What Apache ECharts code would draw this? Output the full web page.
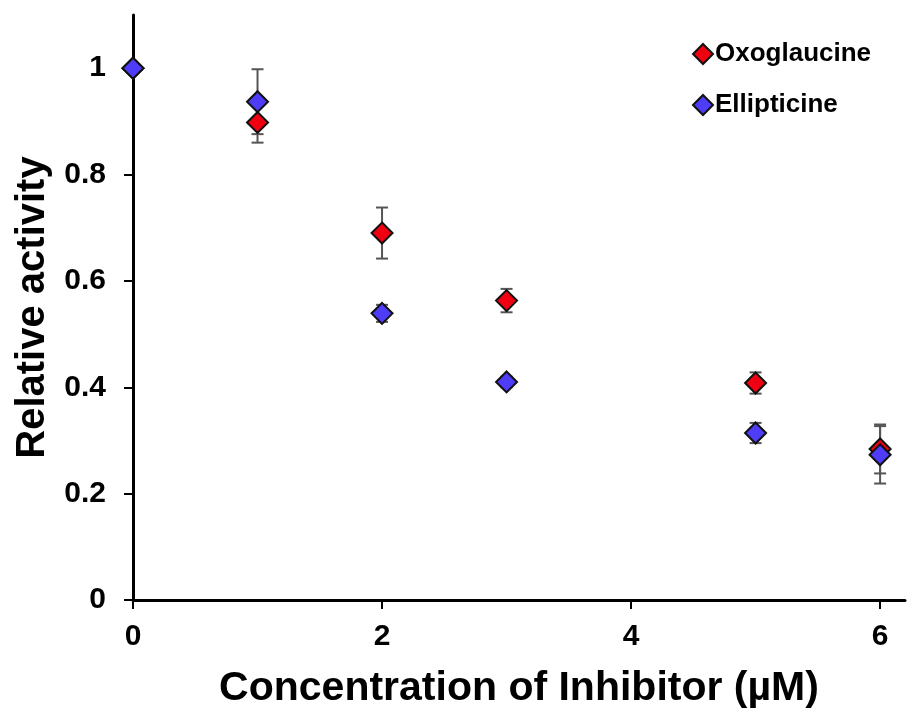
<!DOCTYPE html>
<html lang="en">
<head>
  <meta charset="UTF-8">
  <title>Relative activity</title>
  <style>
    html, body { margin: 0; padding: 0; background: #fff; }
    #chart { width: 909px; height: 714px; }
  </style>
</head>
<body>
  <div id="chart"></div>
  <script src="https://cdn.jsdelivr.net/npm/echarts@6/dist/echarts.min.js"></script>
  <script>
    // concentrations (µM)
    const conc = [0, 1, 2, 3, 5, 6]

    // relative activity + error bars
    const oxoVals = [1.0, 0.898, 0.690, 0.563, 0.408, 0.284]
    const oxoErr = [0.0, 0.038, 0.048, 0.022, 0.020, 0.046]
    const ellVals = [1.0, 0.937, 0.539, 0.410, 0.314, 0.273]
    const ellErr = [0.0, 0.061, 0.016, 0.010, 0.019, 0.054]

    const font = 'Liberation Sans, Arial, sans-serif'

    const chart = echarts.init(document.getElementById('chart'))

    const errSeries = (vals, errs) => ({
      type: 'custom',
      silent: true,
      z: 1,
      data: conc.map((c, i) => [c, vals[i] - errs[i], vals[i] + errs[i]]),
      renderItem: (params, api) => {
        const lo = api.coord([api.value(0), api.value(1)])
        const hi = api.coord([api.value(0), api.value(2)])
        const w = 6
        const style = { stroke: '#555', lineWidth: 2 }
        return {
          type: 'group',
          children: [
            { type: 'line', shape: { x1: lo[0], y1: lo[1], x2: hi[0], y2: hi[1] }, style },
            { type: 'line', shape: { x1: lo[0] - w, y1: lo[1], x2: lo[0] + w, y2: lo[1] }, style },
            { type: 'line', shape: { x1: hi[0] - w, y1: hi[1], x2: hi[0] + w, y2: hi[1] }, style }
          ]
        }
      }
    })

    const pointSeries = (name, vals, color, z) => ({
      name,
      type: 'scatter',
      symbol: 'diamond',
      symbolSize: 21,
      z,
      itemStyle: { color, opacity: 1, borderColor: '#111', borderWidth: 2 },
      data: conc.map((c, i) => [c, vals[i]])
    })

    const option = {
      animation: false,
      grid: { left: 133, right: 4, top: 15, bottom: 114 },
      legend: {
        orient: 'vertical',
        left: 687,
        top: 36,
        itemGap: 25,
        itemWidth: 20,
        itemHeight: 20,
        data: ['Oxoglaucine', 'Ellipticine'],
        textStyle: { fontFamily: font, fontWeight: 'bold', fontSize: 26, color: '#000', padding: [0, 0, 0, -3] }
      },
      xAxis: {
        type: 'value',
        min: 0,
        max: 6.2,
        interval: 2,
        name: 'Concentration of Inhibitor (µM)',
        nameLocation: 'middle',
        nameGap: 68,
        nameTextStyle: { fontFamily: font, fontWeight: 'bold', fontSize: 41, color: '#000' },
        axisLine: { lineStyle: { color: '#000', width: 3 } },
        axisTick: { length: 9, lineStyle: { color: '#000', width: 2 } },
        axisLabel: {
          fontFamily: font, fontWeight: 'bold', fontSize: 30, color: '#000', margin: 22,
          showMaxLabel: false
        },
        splitLine: { show: false }
      },
      yAxis: {
        type: 'value',
        min: 0,
        max: 1.1,
        interval: 0.2,
        name: 'Relative activity',
        nameLocation: 'middle',
        nameGap: 80,
        nameTextStyle: { fontFamily: font, fontWeight: 'bold', fontSize: 40, color: '#000' },
        axisLine: { lineStyle: { color: '#000', width: 3 } },
        axisTick: { length: 9, lineStyle: { color: '#000', width: 2 } },
        axisLabel: {
          fontFamily: font, fontWeight: 'bold', fontSize: 30, color: '#000', margin: 27,
          showMaxLabel: false,
          formatter: v => (Math.round(v * 10) / 10).toString()
        },
        splitLine: { show: false }
      },
      series: [
        errSeries(oxoVals, oxoErr),
        errSeries(ellVals, ellErr),
        pointSeries('Oxoglaucine', oxoVals, '#f00010', 3),
        pointSeries('Ellipticine', ellVals, '#4e3cf6', 4)
      ]
    }

    chart.setOption(option)
  </script>
</body>
</html>
